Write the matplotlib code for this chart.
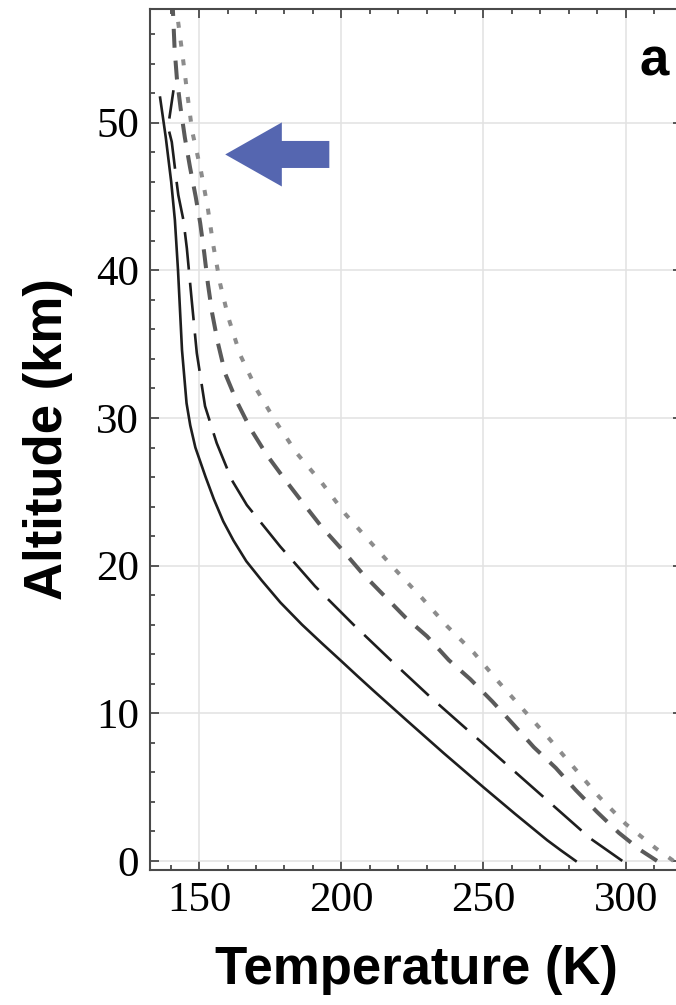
import numpy as np
import matplotlib
matplotlib.use("Agg")
import matplotlib.pyplot as plt
from matplotlib.patches import FancyArrow

# profiles: altitude (km) and temperature (K)
z_solid = [0, 0.7, 1.4, 3.2, 5.0, 7.3, 9.5, 10.5, 11.5, 12.5, 13.5, 14.7, 16.0, 17.5, 19.0,
           20.3, 21.7, 23.0, 24.5, 26.0, 28.0, 29.5, 31.0, 34.6, 40.0, 43.4, 46.0, 49.0, 51.7]
t_solid = [282.4, 277.3, 272.4, 261.0, 249.9, 236.0, 223.1, 217.3, 211.5, 205.8, 200.2,
           193.4, 186.2, 178.6, 172.0, 166.6, 162.1, 158.5, 155.2, 152.3, 148.7, 146.9,
           145.6, 144.0, 142.6, 141.5, 140.2, 138.3, 136.3]

z_longdash = [0, 1.5, 3.9, 6.3, 8.7, 11.1, 13.5, 16.0, 18.6, 21.3, 24.1, 25.8, 28.3, 30.8,
              34.4, 38.0, 41.5, 43.4, 45.1, 46.0, 48.7, 49.7, 52.2]
t_longdash = [298.8, 287.7, 273.6, 259.5, 245.4, 231.3, 217.9, 204.3, 190.8, 178.5, 166.8,
              161.5, 156.2, 152.1, 149.2, 147.4, 145.7, 144.5, 142.7, 142.1, 140.4, 139.1, 141.0]

z_dash = [0, 0.74, 1.9, 3.3, 4.8, 6.3, 7.7, 9.2, 10.8, 12.3, 13.6, 15.2, 16.5, 18.0, 19.5,
          21.1, 22.6, 24.2, 25.8, 27.5, 29.3, 31.1, 33.0, 35.1, 37.1, 39.1, 41.2, 43.2,
          45.0, 47.0, 49.0, 51.0, 53.0, 55.0, 58.5]
t_dash = [311.0, 305.1, 297.6, 290.0, 282.4, 275.4, 267.7, 260.7, 253.1, 245.4, 237.8,
          230.2, 222.5, 214.9, 207.3, 200.2, 193.2, 186.7, 180.3, 173.8, 168.0, 163.3,
          159.2, 156.6, 154.6, 153.1, 151.8, 150.4, 148.8, 146.8, 145.0, 143.5, 142.2,
          141.4, 140.6]

z_dot = [0, 0.85, 2.5, 4.35, 6.3, 8.3, 10.2, 12.1, 14.1, 15.9, 17.8, 19.6, 21.6, 23.5,
         25.6, 27.6, 29.8, 31.9, 34.3, 36.8, 39.1, 41.7, 44.3, 46.8, 49.4, 51.9, 54.4, 58.5]
t_dot = [316.8, 310.6, 300.0, 290.6, 281.9, 273.0, 264.2, 255.4, 246.6, 237.2, 228.4,
         219.6, 210.2, 201.4, 193.2, 184.4, 176.8, 170.3, 164.4, 160.3, 157.4, 155.0,
         153.0, 150.6, 147.6, 145.9, 144.3, 141.5]

x_ticks = [150, 200, 250, 300]
y_ticks = [0, 10, 20, 30, 40, 50]

# arrow marking the top of the profiles (tail x, tip x, altitude)
arrow_tail = 195.8
arrow_tip = 159.2
arrow_alt = 47.85

fig = plt.figure(figsize=(6.76, 10.05), dpi=100)
ax = fig.add_axes([0.2219, 0.1343, 0.787, 0.8567])

ax.plot(t_dot, z_dot, color="#8c8c8c", lw=2.9, dashes=(1.5, 3.2))
ax.plot(t_dash, z_dash, color="#5a5a5a", lw=2.9, dashes=(4.7, 3.2))
ax.plot(t_longdash, z_longdash, color="#1e1e1e", lw=1.9, dashes=(14.3, 5.0))
ax.plot(t_solid, z_solid, color="#1e1e1e", lw=1.9)

ax.add_patch(FancyArrow(arrow_tail, arrow_alt, arrow_tip - arrow_tail, 0,
                        width=1.83, head_width=4.34, head_length=19.9,
                        length_includes_head=True, color="#5566b0", lw=0))

ax.set_xlim(132.75, 319.8)
ax.set_ylim(-0.62, 57.7)
ax.set_xticks(x_ticks)
ax.set_yticks(y_ticks)
ax.set_xticks(np.arange(140, 320, 10), minor=True)
ax.set_yticks(np.arange(0, 58, 2), minor=True)
ax.grid(True, which="major", color="#e2e2e2", lw=1.1)
ax.set_axisbelow(True)

for s in ax.spines.values():
    s.set_color("#4a4a4a")
    s.set_linewidth(1.5)
ax.tick_params(which="both", direction="in", top=True, right=True, color="#4a4a4a",
               width=1.3)
ax.tick_params(which="major", length=6.5, pad=8)
ax.tick_params(which="minor", length=3.6)
for lab in ax.get_xticklabels() + ax.get_yticklabels():
    lab.set_fontfamily("Liberation Serif")
    lab.set_fontsize(31)

ax.set_xlabel("Temperature (K)", family="Liberation Sans", weight="bold", fontsize=38)
ax.set_ylabel("Altitude (km)", family="Liberation Sans", weight="bold", fontsize=38)
ax.xaxis.set_label_coords(0.5, -0.087)
ax.yaxis.set_label_coords(-0.145, 0.5)

ax.text(0.921, 0.923, "a", transform=ax.transAxes, ha="left", va="baseline",
        family="Liberation Sans", weight="bold", fontsize=38)

fig.savefig("out.png", dpi=100)
